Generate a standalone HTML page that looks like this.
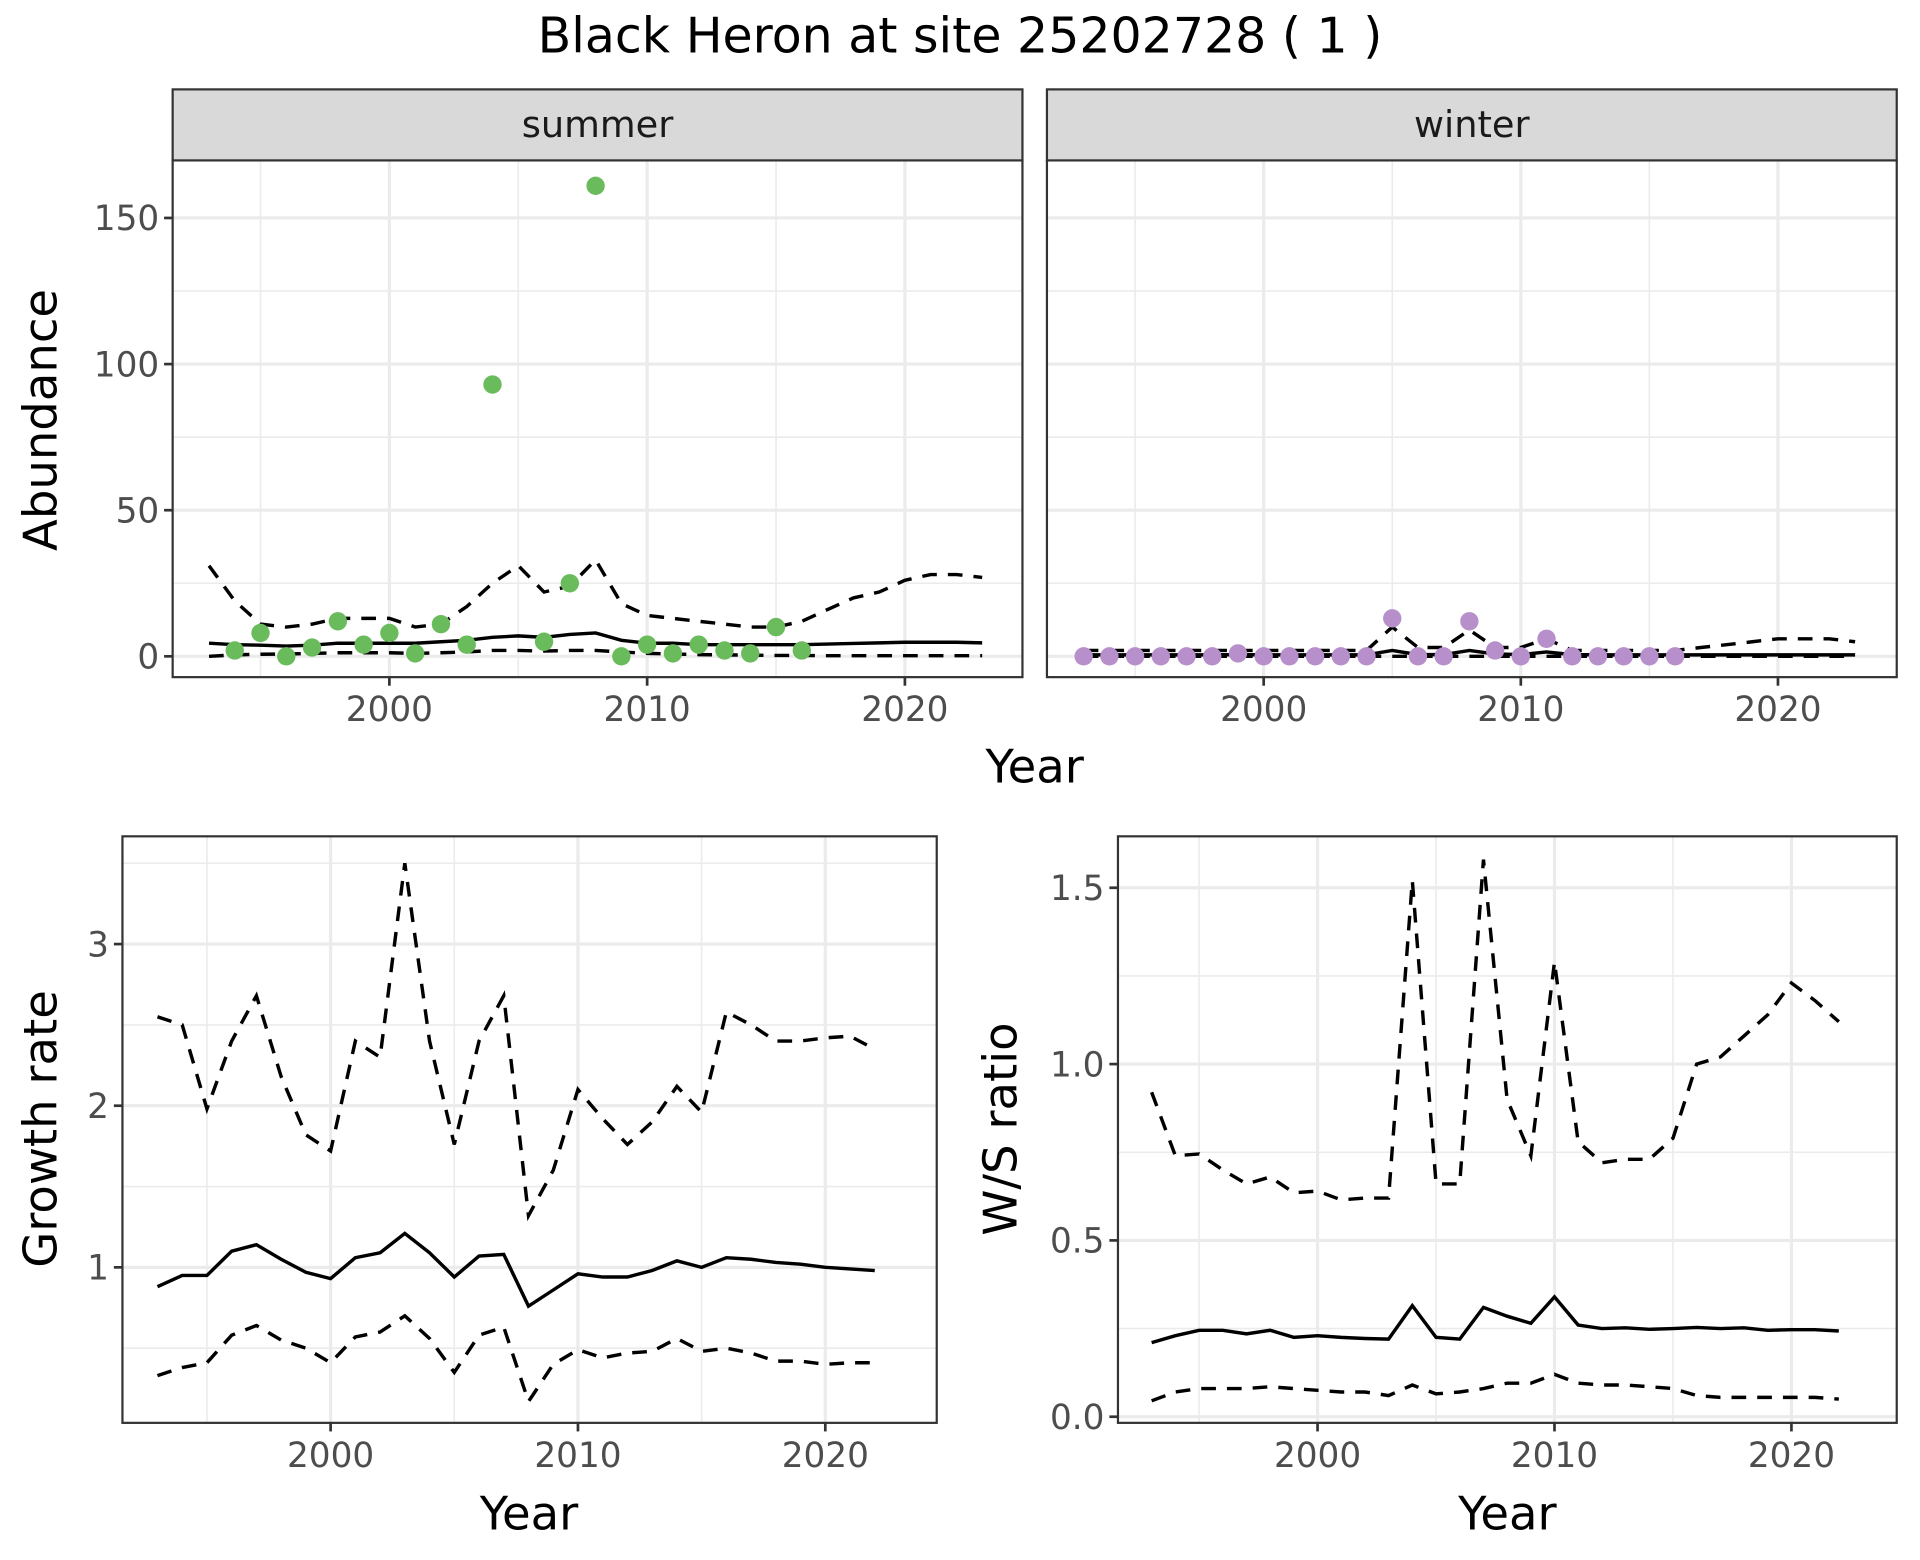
<!DOCTYPE html>
<html><head><meta charset="utf-8"><style>
html,body{margin:0;padding:0;background:#fff}
svg{display:block}
text{font-family:"DejaVu Sans","Liberation Sans",sans-serif}
</style></head><body>
<svg id="chart" width="1920" height="1560" viewBox="0 0 1568 1274" preserveAspectRatio="none" xmlns="http://www.w3.org/2000/svg">
<text x="784" y="43" text-anchor="middle" font-size="40" fill="#000">Black Heron at site 25202728 ( 1 )</text>
</svg>
<script>
const sumPtYears=[1994,1995,1996,1997,1998,1999,2000,2001,2002,2003,2004,2006,2007,2008,2009,2010,2011,2012,2013,2014,2015,2016];
const sumPtVals=[2,8,0,3,12,4,8,1,11,4,93,5,25,161,0,4,1,4,2,1,10,2];
const abYears=[1993,1994,1995,1996,1997,1998,1999,2000,2001,2002,2003,2004,2005,2006,2007,2008,2009,2010,2011,2012,2013,2014,2015,2016,2017,2018,2019,2020,2021,2022,2023];
const sumMean=[4.5,4,3.8,3.5,3.8,4.5,4.5,4.5,4.5,5,5.5,6.5,7,6.5,7.5,8,5.5,4.5,4.5,4,4,4,4,4,4.2,4.4,4.6,4.8,4.8,4.8,4.6];
const sumUpper=[31,19,11,10,11,13,13,13,10,11,17,25,31,22,24,33,18,14,13,12,11,10,10,12,16,20,22,26,28,28,27];
const sumLower=[0,0.5,0.7,0.8,1,1.2,1.2,1.2,1,1.2,1.5,2,2,1.8,2,2,1.5,1,0.8,0.6,0.5,0.4,0.3,0.3,0.2,0.2,0.2,0.2,0.2,0.2,0.2];
const winPtYears=[1993,1994,1995,1996,1997,1998,1999,2000,2001,2002,2003,2004,2005,2006,2007,2008,2009,2010,2011,2012,2013,2014,2015,2016];
const winPtVals=[0,0,0,0,0,0,1,0,0,0,0,0,13,0,0,12,2,0,6,0,0,0,0,0];
const winMean=[0.5,0.5,0.5,0.5,0.5,0.5,0.6,0.5,0.5,0.5,0.5,0.5,2,0.6,0.6,2,0.8,0.6,1.5,0.6,0.5,0.5,0.5,0.5,0.5,0.5,0.5,0.5,0.5,0.5,0.5];
const winUpper=[2,2,2,2,2,2,2,2,2,2,2,2,10,3,3,9,3,3,6,2,2,2,2,2,3,4,5,6,6,6,5];
const winLower=[0,0,0,0,0,0,0,0,0,0,0,0,0,0,0,0,0,0,0,0,0,0,0,0,0,0,0,0,0,0,0];
const grYears=[1993,1994,1995,1996,1997,1998,1999,2000,2001,2002,2003,2004,2005,2006,2007,2008,2009,2010,2011,2012,2013,2014,2015,2016,2017,2018,2019,2020,2021,2022];
const grMean=[0.88,0.95,0.95,1.10,1.14,1.05,0.97,0.93,1.06,1.09,1.21,1.09,0.94,1.07,1.08,0.76,0.86,0.96,0.94,0.94,0.98,1.04,1.00,1.06,1.05,1.03,1.02,1.00,0.99,0.98];
const grUpper=[2.55,2.50,1.98,2.40,2.68,2.18,1.82,1.72,2.40,2.30,3.50,2.40,1.76,2.40,2.68,1.32,1.60,2.10,1.92,1.76,1.90,2.12,1.96,2.58,2.50,2.40,2.40,2.42,2.43,2.35];
const grLower=[0.33,0.38,0.41,0.58,0.64,0.55,0.50,0.41,0.57,0.60,0.70,0.56,0.35,0.58,0.63,0.17,0.40,0.49,0.44,0.47,0.48,0.56,0.48,0.50,0.47,0.42,0.42,0.40,0.41,0.41];
const wsMean=[0.21,0.23,0.245,0.245,0.235,0.245,0.225,0.23,0.225,0.222,0.22,0.315,0.225,0.22,0.31,0.285,0.265,0.34,0.26,0.25,0.252,0.248,0.25,0.253,0.25,0.252,0.245,0.247,0.247,0.243];
const wsUpper=[0.92,0.74,0.745,0.70,0.66,0.68,0.635,0.64,0.615,0.62,0.62,1.52,0.66,0.66,1.58,0.90,0.74,1.29,0.78,0.72,0.73,0.73,0.79,1.00,1.02,1.08,1.14,1.23,1.18,1.12];
const wsLower=[0.045,0.07,0.08,0.08,0.08,0.085,0.08,0.075,0.07,0.07,0.06,0.09,0.065,0.07,0.08,0.095,0.095,0.12,0.095,0.09,0.09,0.085,0.08,0.06,0.055,0.055,0.055,0.055,0.055,0.05];
const xTicks=[2000,2010,2020];
const abTicks=[0,50,100,150];
const grTicks=[1,2,3];
const wsTicks=[0,0.5,1.0,1.5];
const wsTickLabels=["0.0","0.5","1.0","1.5"];

const svg=document.getElementById('chart');
const NS='http://www.w3.org/2000/svg';
function el(tag,attrs,parent){const e=document.createElementNS(NS,tag);for(const k in attrs)e.setAttribute(k,attrs[k]);(parent||svg).appendChild(e);return e;}
function lin(d0,d1,r0,r1){return v=>r0+(v-d0)/(d1-d0)*(r1-r0);}

function panel(name,box,xs,ys,yTicks,yLabels,showY,showX,minorY){
  const g=el('g',{});
  
  
  el('rect',{x:box.x0,y:box.y0,width:box.x1-box.x0,height:box.y1-box.y0,fill:'#fff'},g);
  [1995,2005,2015].forEach(v=>el('line',{x1:xs(v),x2:xs(v),y1:box.y0,y2:box.y1,stroke:'#ebebeb','stroke-width':1.3},g));
  minorY.forEach(v=>el('line',{x1:box.x0,x2:box.x1,y1:ys(v),y2:ys(v),stroke:'#ebebeb','stroke-width':1.3},g));
  xTicks.forEach(v=>el('line',{x1:xs(v),x2:xs(v),y1:box.y0,y2:box.y1,stroke:'#ebebeb','stroke-width':2.6},g));
  yTicks.forEach(v=>el('line',{x1:box.x0,x2:box.x1,y1:ys(v),y2:ys(v),stroke:'#ebebeb','stroke-width':2.6},g));
  if(showX) xTicks.forEach(v=>{
    el('line',{x1:xs(v),x2:xs(v),y1:box.y1,y2:box.y1+7,stroke:'#333','stroke-width':2.2},g);
    const t=el('text',{x:xs(v),y:box.y1+36,'text-anchor':'middle','font-size':28,fill:'#4d4d4d'},g);t.textContent=v;
    
  });
  if(showY) yTicks.forEach((v,i)=>{
    el('line',{x1:box.x0-7,x2:box.x0,y1:ys(v),y2:ys(v),stroke:'#333','stroke-width':2.2},g);
    const t=el('text',{x:box.x0-11,y:ys(v)+10,'text-anchor':'end','font-size':28,fill:'#4d4d4d'},g);t.textContent=yLabels[i];
    
  });
  return g;
}
function line(g,xs,ys,X,Y,dash,name){
  const d=X.map((x,i)=>(i?'L':'M')+xs(x).toFixed(1)+','+ys(Y[i]).toFixed(1)).join('');
  const p=el('path',{d:d,fill:'none',stroke:'#000','stroke-width':2.8,'stroke-dasharray':dash?'12,9':'none'},g);
  
  
}
function points(g,xs,ys,X,Y,col,name){
  X.forEach((x,i)=>{const c=el('circle',{cx:xs(x),cy:ys(Y[i]),r:7.5,fill:col},g);
    
    });
}
function border(g,box){el('rect',{x:box.x0,y:box.y0,width:box.x1-box.x0,height:box.y1-box.y0,fill:'none',stroke:'#333','stroke-width':1.8},g);}
function strip(box,label,name){
  const r=el('rect',{x:box.x0,y:73,width:box.x1-box.x0,height:58,fill:'#d9d9d9',stroke:'#333','stroke-width':1.8});
  
  
  const t=el('text',{x:(box.x0+box.x1)/2,y:112,'text-anchor':'middle','font-size':30,fill:'#1a1a1a'});t.textContent=label;
}
function txt(x,y,s,size,rot,name){
  const t=el('text',{x:x,y:y,'text-anchor':'middle','font-size':size,fill:'#000',transform:rot?`rotate(-90 ${x} ${y})`:''});
  t.textContent=s;
  
  
}

const bS={x0:141,x1:835,y0:131,y1:553};
const xS=lin(2000,2020,318,739), yAb=lin(0,150,536,178);
let g=panel('summer-panel',bS,xS,yAb,abTicks,abTicks,true,true,[25,75,125]);
line(g,xS,yAb,abYears,sumUpper,true,'summer-upper-ci');
line(g,xS,yAb,abYears,sumLower,true,'summer-lower-ci');
line(g,xS,yAb,abYears,sumMean,false,'summer-mean');
points(g,xS,yAb,sumPtYears,sumPtVals,'#6abb5c','summer-point');
border(g,bS); strip(bS,'summer','summer-strip');
const bW={x0:855,x1:1549,y0:131,y1:553};
const xW=lin(2000,2020,1032,1452);
g=panel('winter-panel',bW,xW,yAb,abTicks,abTicks,false,true,[25,75,125]);
line(g,xW,yAb,abYears,winUpper,true,'winter-upper-ci');
line(g,xW,yAb,abYears,winLower,true,'winter-lower-ci');
line(g,xW,yAb,abYears,winMean,false,'winter-mean');
points(g,xW,yAb,winPtYears,winPtVals,'#b78fcb','winter-point');
border(g,bW); strip(bW,'winter','winter-strip');
txt(845,639,'Year',38,false,'top-x-axis-title');
txt(46,343,'Abundance',38,true,'abundance-axis-title');
const bG={x0:100,x1:765,y0:683,y1:1162};
const xG=lin(2000,2020,270,674), yG=lin(1,3,1035,771);
g=panel('growth-panel',bG,xG,yG,grTicks,grTicks,true,true,[0.5,1.5,2.5,3.5]);
line(g,xG,yG,grYears,grUpper,true,'growth-upper-ci');
line(g,xG,yG,grYears,grLower,true,'growth-lower-ci');
line(g,xG,yG,grYears,grMean,false,'growth-mean');
border(g,bG);
txt(432,1249,'Year',38,false,'growth-x-axis-title');
txt(46,922,'Growth rate',38,true,'growth-axis-title');
const bR={x0:913,x1:1549,y0:683,y1:1162};
const xR=lin(2000,2020,1076,1463), yR=lin(0,1.5,1157,725);
g=panel('ws-panel',bR,xR,yR,wsTicks,wsTickLabels,true,true,[0.25,0.75,1.25]);
line(g,xR,yR,grYears,wsUpper,true,'ws-upper-ci');
line(g,xR,yR,grYears,wsLower,true,'ws-lower-ci');
line(g,xR,yR,grYears,wsMean,false,'ws-mean');
border(g,bR);
txt(1231,1249,'Year',38,false,'ws-x-axis-title');
txt(830,922,'W/S ratio',38,true,'ws-axis-title');
</script>
</body></html>
